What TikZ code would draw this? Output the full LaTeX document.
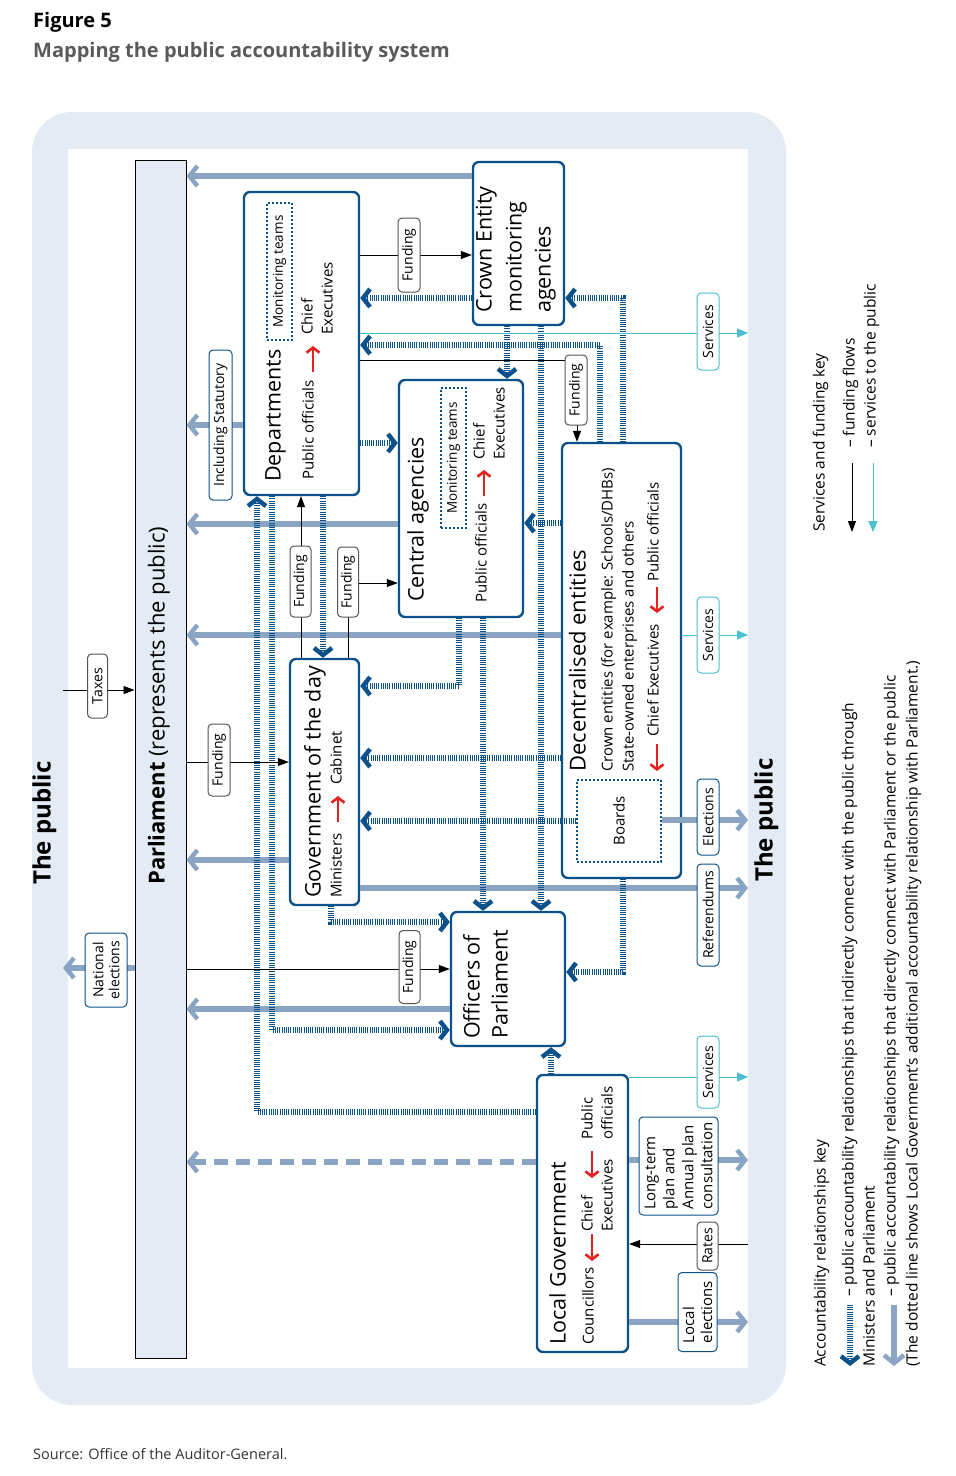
\documentclass[tikz,border=0pt]{standalone}
\usepackage{fontspec}
\setmainfont{Open Sans}
\usetikzlibrary{arrows.meta}
\definecolor{bgblue}{HTML}{E4EBF4}
\definecolor{accb}{HTML}{8AA5C4}
\definecolor{dblue}{HTML}{0C5189}
\definecolor{teal2}{HTML}{4BC0CF}
\definecolor{redar}{HTML}{E42320}
\definecolor{lgray}{HTML}{555555}
\definecolor{ttl}{HTML}{5A5A5A}
\newcommand\fs[2]{\fontsize{#1}{#2}\selectfont}
\begin{document}
\begin{tikzpicture}[x=1pt,y=-1pt,
 box/.style={draw=dblue, line width=2.4pt, rounded corners=6pt, fill=white, inner sep=0pt},
 dotbox/.style={draw=dblue, line width=1.6pt, dash pattern=on 1.6pt off 2.4pt, inner sep=0pt},
 rt/.style={rotate=90, inner sep=0pt, text height=0.72em, text depth=0.22em, anchor=west},
 big/.style={font=\fs{21.5}{26}},
 sub/.style={font=\fs{15}{18}},
 leg/.style={font=\fs{15.5}{18}},
 lab/.style={rotate=90, draw=lgray, line width=1pt, rounded corners=4pt, fill=white, font=\fs{14}{17}, inner sep=1pt, align=center},
 labb/.style={lab, draw=dblue},
 labt/.style={lab, draw=teal2},
 accp/.style={draw=accb, line width=6pt, -{Straight Barb[length=8pt,width=20pt,line width=4.5pt]}},
 acct/.style={draw=dblue, line width=6pt, dash pattern=on 1pt off 1.2pt, -{Straight Barb[length=7pt,width=18pt,line width=4.5pt]}},
 fund/.style={draw=black, line width=0.8pt, -{Triangle[length=11pt,width=8pt]}},
 serv/.style={draw=teal2, line width=0.9pt, -{Triangle[length=11pt,width=9pt]}},
 redarr/.style={draw=redar, line width=2.6pt, -{Straight Barb[length=5pt,width=13pt,line width=2.6pt]}}
]
\useasboundingbox (0,0) rectangle (956,1476);
% header
\node[anchor=west, inner sep=0, font=\fs{20}{24}\bfseries] (t1) at (33,22) {Figure 5};
\node[anchor=west, inner sep=0, font=\fs{20}{24}\bfseries, text=ttl] (t2) at (33,52) {Mapping the public accountability system};
\node[anchor=west, inner sep=0, font=\fs{14.5}{16}, text=black!80] (src) at (33,1454) {Source: Office of the Auditor-General.};
% background
\fill[bgblue, rounded corners=40pt] (32,112) rectangle (786,1405);
\fill[white] (68,149) rectangle (748,1368);
\coordinate (pubR) at (748,0);
\coordinate (pubL) at (63,0);
\node[rt, font=\fs{24}{28}\bfseries] (tpl) at (48,885) {The public};
\node[rt, font=\fs{24}{28}\bfseries] (tpr) at (770,882) {The public};
% boxes
\node[draw=black, fill=bgblue, line width=1pt, minimum width=51pt, minimum height=1198pt, inner sep=0pt] (parl) at (160.5,759) {};
\node[rt, font=\fs{22}{26}] (parlt) at (162,885) {\textbf{Parliament} (represents the public)};
\node[box, minimum width=91pt, minimum height=163pt] (crown) at (518.5,243.5) {};
\node[box, minimum width=115pt, minimum height=303pt] (dep) at (301.5,343.5) {};
\node[box, minimum width=124pt, minimum height=237pt] (cen) at (461,498.5) {};
\node[box, minimum width=119pt, minimum height=435pt] (dec) at (621.5,660.5) {};
\node[box, minimum width=69pt, minimum height=246pt] (gov) at (324.5,782) {};
\node[box, minimum width=114pt, minimum height=134pt] (off) at (508,979) {};
\node[box, minimum width=91pt, minimum height=277pt] (loc) at (582.5,1213.5) {};
\node[dotbox, minimum width=84pt, minimum height=82pt] (boards) at (619,821) {};
\node[dotbox, minimum width=25pt, minimum height=137pt] (mon1) at (279.5,271.5) {};
\node[dotbox, minimum width=25pt, minimum height=140pt] (mon2) at (453.5,458) {};
% accountability (thick)
\draw[accp] (crown.west |- 0,176) -- (parl.east |- 0,176);
\draw[accp] (dep.west |- 0,425) -- (parl.east |- 0,425);
\draw[accp] (cen.west |- 0,524) -- (parl.east |- 0,524);
\draw[accp] (dec.west |- 0,635) -- (parl.east |- 0,635);
\draw[accp] (gov.west |- 0,860) -- (parl.east |- 0,860);
\draw[accp] (off.west |- 0,1009) -- (parl.east |- 0,1009);
\draw[accp, dash pattern=on 14pt off 8pt] (loc.west |- 0,1162) -- (parl.east |- 0,1162);
\draw[accp] (parl.west |- 0,968) -- (pubL |- 0,968);
\draw[accp] (gov.east |- 0,888) -- (pubR |- 0,888);
\draw[accp] (loc.east |- 0,1160) -- (pubR |- 0,1160);
\draw[accp] (loc.east |- 0,1322) -- (pubR |- 0,1322);
% accountability (dotted)
\draw[acct] (crown.west |- 0,298) -- (dep.east |- 0,298);
\draw[acct] (dec.north -| 623,0) -- (623,298) -- (crown.east |- 0,298);
\draw[acct] (dec.north -| 600,0) -- (600,345) -- (dep.east |- 0,345);
\draw[acct] (crown.south -| 507,0) -- (cen.north -| 507,0);
\draw[acct] (crown.south -| 541,0) -- (off.north -| 541,0);
\draw[acct] (cen.south -| 483,0) -- (off.north -| 483,0);
\draw[acct] (cen.south -| 459,0) -- (459,686) -- (gov.east |- 0,686);
\draw[acct] (dec.west |- 0,758) -- (gov.east |- 0,758);
\draw[acct] (dec.west |- 0,523) -- (cen.east |- 0,523);
\draw[acct] (dep.east |- 0,443) -- (cen.west |- 0,443);
\draw[acct] (dep.south -| 323,0) -- (gov.north -| 323,0);
\draw[acct] (gov.south -| 331,0) -- (331,922) -- (off.west |- 0,922);
\draw[acct] (dep.south -| 272,0) -- (272,1030) -- (off.west |- 0,1030);
\draw[acct] (loc.west |- 0,1112) -- (257,1112) -- (dep.south -| 257,0);
\draw[acct] (loc.north -| 551,0) -- (off.south -| 551,0);
\draw[acct] (dec.south -| 623,0) -- (623,972) -- (off.east |- 0,972);
\draw[acct] (boards.west |- 0,821) -- (gov.east |- 0,821);
\draw[accp] (boards.east |- 0,820) -- (pubR |- 0,820);
% funding
\draw[fund] (dep.east |- 0,255) -- (crown.west |- 0,255);
\draw[fund] (dep.east |- 0,360) -- (577,360) -- (dec.north -| 577,0);
\draw[fund] (gov.north -| 301,0) -- (dep.south -| 301,0);
\draw[fund] (gov.north -| 348,0) -- (348,583) -- (cen.west |- 0,583);
\draw[fund] (parl.east |- 0,762) -- (gov.west |- 0,762);
\draw[fund] (parl.east |- 0,969) -- (off.west |- 0,969);
\draw[fund] (pubR |- 0,1244) -- (loc.east |- 0,1244);
\draw[fund] (pubL |- 0,690) -- (parl.west |- 0,690);
% services
\draw[serv] (dep.east |- 0,333) -- (pubR |- 0,333);
\draw[serv] (dec.east |- 0,635) -- (pubR |- 0,635);
\draw[serv] (loc.east |- 0,1077) -- (pubR |- 0,1077);
% labels
\node[lab, minimum width=64pt, minimum height=20pt] (ltax) at (97.5,686) {Taxes};
\node[labb, minimum width=74pt, minimum height=42pt, font=\fs{14}{16}] (lnat) at (106,970) {National\\elections};
\node[labb, minimum width=150pt, minimum height=23pt] (lstat) at (220.5,425) {Including Statutory};
\node[lab, minimum width=74pt, minimum height=22pt] (lf1) at (409,255) {Funding};
\node[lab, minimum width=70pt, minimum height=22pt] (lf2) at (576,390) {Funding};
\node[lab, minimum width=71pt, minimum height=21pt] (lf3) at (300.5,581.5) {Funding};
\node[lab, minimum width=70pt, minimum height=21pt] (lf4) at (348,582) {Funding};
\node[lab, minimum width=72pt, minimum height=22pt] (lf5) at (219,760) {Funding};
\node[lab, minimum width=73pt, minimum height=21pt] (lf6) at (409.5,967) {Funding};
\node[labt, minimum width=77pt, minimum height=22pt] (ls1) at (708,331.5) {Services};
\node[labt, minimum width=76pt, minimum height=22pt] (ls2) at (708,635) {Services};
\node[labt, minimum width=72pt, minimum height=22pt] (ls3) at (708,1072) {Services};
\node[labb, minimum width=76pt, minimum height=22pt] (lel) at (708,817) {Elections};
\node[labb, minimum width=102pt, minimum height=22pt] (lref) at (708,915) {Referendums};
\node[labb, minimum width=98pt, minimum height=79pt, font=\fs{15}{19}, align=left] (llt) at (678.5,1166) {Long-term\\plan and\\Annual plan\\consultation};
\node[lab, minimum width=48pt, minimum height=21pt] (lrat) at (707.5,1246) {Rates};
\node[labb, minimum width=79pt, minimum height=39pt, font=\fs{15}{18}, align=left] (lle) at (697.5,1312) {Local\\elections};
% box texts
\node[rt, big] at (489,313) {Crown Entity};
\node[rt, big] at (519,313) {monitoring};
\node[rt, big] at (548,313) {agencies};
\node[rt, big] at (278,482) {Departments};
\node[rt, sub] at (311,480) {Public officials};
\node[rt, sub] at (310,335) {Chief};
\node[rt, sub] at (330,335) {Executives};
\node[rotate=90, font=\fs{13.5}{16}, inner sep=0pt] at (mon1) {Monitoring teams};
\node[rt, big] at (421,602) {Central agencies};
\node[rt, sub] at (484,603) {Public officials};
\node[rt, sub] at (482,460) {Chief};
\node[rt, sub] at (502,460) {Executives};
\node[rotate=90, font=\fs{13.5}{16}, inner sep=0pt] at (mon2) {Monitoring teams};
\node[rt, font=\fs{22}{26}] at (583,772) {Decentralised entities};
\node[rt, sub] at (610,772) {Crown entities (for example: Schools/DHBs)};
\node[rt, sub] at (631,772) {State-owned enterprises and others};
\node[rt, sub] at (656,737) {Chief Executives};
\node[rt, sub] at (656,582) {Public officials};
\node[rotate=90, font=\fs{15}{18}, inner sep=0pt] at (boards) {Boards};
\node[rt, big] at (318,898) {Government of the day};
\node[rt, sub] at (339,898) {Ministers};
\node[rt, sub] at (339,785) {Cabinet};
\node[rt, font=\fs{21.5}{26}] at (477,1039) {Officers of};
\node[rt, font=\fs{21.5}{26}] at (505,1039) {Parliament};
\node[rt, big] at (563,1345) {Local Government};
\node[rt, sub] at (591,1345) {Councillors};
\node[rt, sub] at (590,1232) {Chief};
\node[rt, sub] at (610,1232) {Executives};
\node[rt, sub] at (590,1140) {Public};
\node[rt, sub] at (610,1140) {officials};
% red arrows
\coordinate (ra1) at (313,372); \coordinate (rb1) at (313,346);
\coordinate (ra2) at (484,496); \coordinate (rb2) at (484,470);
\coordinate (ra3) at (657,744); \coordinate (rb3) at (657,771);
\coordinate (ra4) at (657,587); \coordinate (rb4) at (657,613);
\coordinate (ra5) at (338,822); \coordinate (rb5) at (338,796);
\coordinate (ra6) at (592,1234); \coordinate (rb6) at (592,1261);
\coordinate (ra7) at (592,1151); \coordinate (rb7) at (592,1178);
\foreach \i in {1,...,7} {\draw[redarr] (ra\i) -- (rb\i);}
% legend
\node[rt, leg] at (822,532) {Services and funding key};
\coordinate (k1a) at (852,463); \coordinate (k1b) at (852,532);
\coordinate (k2a) at (873,463); \coordinate (k2b) at (873,532);
\draw[fund] (k1a) -- (k1b);
\draw[serv] (k2a) -- (k2b);
\node[rt, leg] at (852,448) {– funding flows};
\node[rt, leg] at (873,448) {– services to the public};
\node[rt, leg] at (823,1367) {Accountability relationships key};
\coordinate (k3a) at (850,1305); \coordinate (k3b) at (850,1366);
\coordinate (k4a) at (894,1305); \coordinate (k4b) at (894,1366);
\draw[acct] (k3a) -- (k3b);
\draw[accp] (k4a) -- (k4b);
\node[rt, leg] at (851,1297) {– public accountability relationships that indirectly connect with the public through};
\node[rt, leg] at (872,1367) {Ministers and Parliament};
\node[rt, leg] at (893,1297) {– public accountability relationships that directly connect with Parliament or the public};
\node[rt, leg] at (915,1367) {(The dotted line shows Local Government’s additional accountability relationship with Parliament.)};
\end{tikzpicture}
\end{document}
